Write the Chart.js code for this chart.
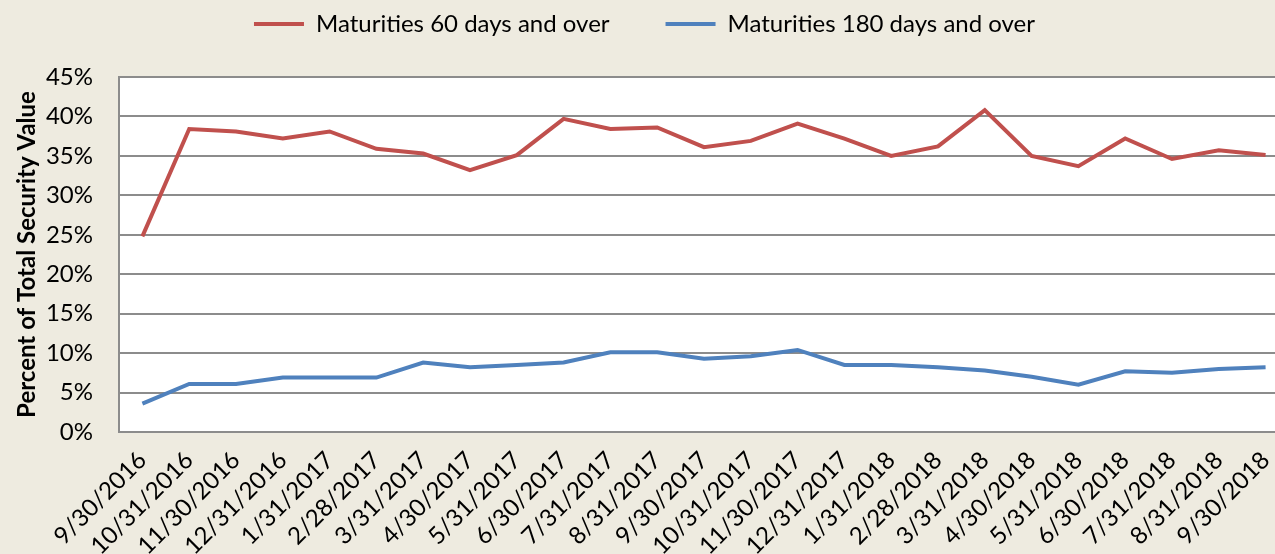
<!DOCTYPE html>
<html>
<head>
<meta charset="utf-8">
<script src="https://cdn.jsdelivr.net/npm/chart.js@4.4.1/dist/chart.umd.min.js"></script>
<style>
    html, body { margin: 0; padding: 0; background: #EEEBE0; overflow: hidden; }
    #wrap { width: 1292px; height: 554px; }
</style>
</head>
<body>
<div id="wrap"><canvas id="line-chart" width="1292" height="554"></canvas></div>
<script>
// Month-end dates
const dates = [
    '9/30/2016', '10/31/2016', '11/30/2016', '12/31/2016', '1/31/2017', '2/28/2017',
    '3/31/2017', '4/30/2017', '5/31/2017', '6/30/2017', '7/31/2017', '8/31/2017',
    '9/30/2017', '10/31/2017', '11/30/2017', '12/31/2017', '1/31/2018', '2/28/2018',
    '3/31/2018', '4/30/2018', '5/31/2018', '6/30/2018', '7/31/2018', '8/31/2018', '9/30/2018'
];

// Percent of total security value
const over60Days = [
    24.8, 38.4, 38.1, 37.2, 38.1, 35.9, 35.3, 33.2, 35.1, 39.7, 38.4, 38.6,
    36.1, 36.9, 39.1, 37.2, 35.0, 36.2, 40.8, 35.0, 33.7, 37.2, 34.6, 35.7, 35.1
];
const over180Days = [
    3.6, 6.1, 6.1, 6.9, 6.9, 6.9, 8.8, 8.2, 8.5, 8.8, 10.1, 10.1,
    9.3, 9.6, 10.4, 8.5, 8.5, 8.2, 7.8, 7.0, 6.0, 7.7, 7.5, 8.0, 8.2
];

const yMin = 0, yMax = 45, yStep = 5;

const FONT = 'Lato, "Open Sans", sans-serif';
const GRID = '#8c8c8c';

// White plot area on beige page
const plotBg = {
    id: 'plotBg',
    beforeDraw(chart) {
        const { ctx, chartArea: a } = chart;
        ctx.save();
        ctx.fillStyle = '#ffffff';
        ctx.fillRect(a.left, a.top, a.right - a.left, a.bottom - a.top);
        ctx.restore();
    }
};

// Fixed legend block height
const legendHeight = {
    id: 'legendHeight',
    beforeInit(chart) {
        const fit = chart.legend.fit;
        chart.legend.fit = function () {
            fit.bind(chart.legend)();
            this.height = 121;
        };
    }
};

const lineChart = document.getElementById('line-chart');

new Chart(lineChart, {
    type: 'line',
    data: {
        labels: dates,
        datasets: [{
            label: 'Maturities 60 days and over',
            data: over60Days,
            borderColor: '#C0504D',
            backgroundColor: '#C0504D',
            borderWidth: 4,
            pointRadius: 0,
            tension: 0
        }, {
            label: 'Maturities 180 days and over',
            data: over180Days,
            borderColor: '#4F81BD',
            backgroundColor: '#4F81BD',
            borderWidth: 4,
            pointRadius: 0,
            tension: 0
        }]
    },
    options: {
        responsive: false,
        animation: false,
        devicePixelRatio: 1,
        layout: {
            padding: { top: -44, right: 3, left: 0, bottom: 0 }
        },
        plugins: {
            legend: {
                position: 'top',
                labels: {
                    usePointStyle: true,
                    pointStyle: 'line',
                    pointStyleWidth: 50,
                    padding: 56,
                    color: '#000',
                    font: { family: FONT, size: 24 }
                }
            },
            tooltip: { enabled: false }
        },
        scales: {
            x: {
                offset: true,
                grid: { display: false, offset: true },
                border: { display: true, color: GRID, width: 2 },
                ticks: {
                    autoSkip: false,
                    maxRotation: 45,
                    minRotation: 45,
                    padding: 6,
                    color: '#000',
                    font: { family: FONT, size: 24 }
                },
                afterFit(scale) { scale.height = 122; }
            },
            y: {
                min: yMin,
                max: yMax,
                grid: { color: GRID, lineWidth: 2, drawTicks: false },
                border: { display: true, color: GRID, width: 2 },
                ticks: {
                    stepSize: yStep,
                    padding: 26,
                    color: '#000',
                    font: { family: FONT, size: 24 },
                    callback: v => v + '%'
                },
                title: {
                    display: true,
                    text: 'Percent of Total Security Value',
                    color: '#000',
                    font: { family: FONT, size: 24, weight: 'bold' },
                    padding: { top: 13, bottom: 0 }
                },
                afterFit(scale) { scale.width = 119; }
            }
        }
    },
    plugins: [plotBg, legendHeight]
});
</script>
</body>
</html>
